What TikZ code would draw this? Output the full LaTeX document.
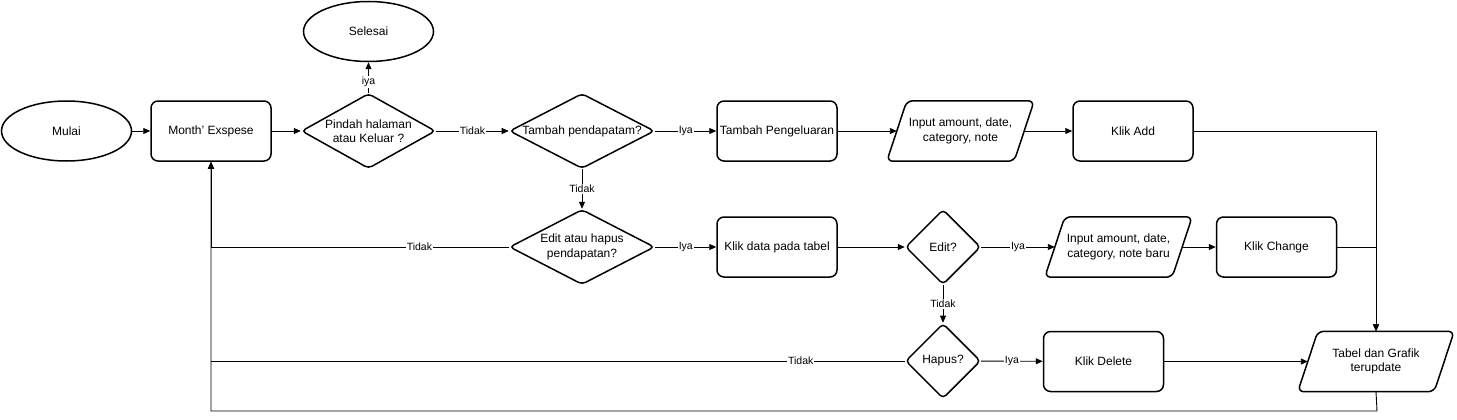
\documentclass[tikz,border=0pt]{standalone}
\usepackage{fontspec}
\setmainfont{Liberation Sans}
\usetikzlibrary{shapes.geometric,arrows.meta}
\tikzset{
  base/.style={draw=black, line width=1.5pt, fill=white, inner sep=0pt, align=center,
    font=\fontsize{12}{14.5}\selectfont},
  term/.style={base, ellipse, minimum width=130pt, minimum height=60pt},
  proc/.style={base, rectangle, rounded corners=7pt, minimum width=120pt, minimum height=60pt},
  dia/.style={base, diamond, rounded corners=4pt},
  iobox/.style={inner sep=0pt, align=center, minimum height=60pt,
    font=\fontsize{12}{14.5}\selectfont},
  ioline/.style={draw=black, line width=1.5pt, rounded corners=6pt},
  arr/.style={draw=black, line width=0.9pt, -{Triangle[length=7pt,width=6pt]}},
  ln/.style={draw=black, line width=0.9pt},
  lbl/.style={fill=white, inner sep=1pt, font=\fontsize{10.5}{12}\selectfont},
  txt/.style={align=center, font=\fontsize{12}{14.5}\selectfont}
}
\newcommand{\iodraw}[1]{%
  \draw[ioline] ([xshift=20pt]#1.north west) -- (#1.north east) -- ([xshift=-20pt]#1.south east) -- (#1.south west) -- cycle;}
\begin{document}
\begin{tikzpicture}[x=1pt,y=-1pt]
\useasboundingbox (0,0) rectangle (1457,420);

% nodes
\node[term] (mulai) at (66.5,131) {Mulai};
\node[proc] (month) at (211,131) {Month' Exspese};
\node[dia, minimum width=134pt, minimum height=75pt,
  label={[txt]center:Pindah halaman\\atau Keluar ?}] (pindah) at (368.5,131) {};
\node[term] (selesai) at (368.5,31.5) {Selesai};
\node[dia, minimum width=145pt, minimum height=75pt,
  label={[txt]center:Tambah pendapatam?}] (tambah) at (582,131) {};
\node[proc] (peng) at (777,131) {Tambah Pengeluaran};
\node[iobox, minimum width=147pt] (in1) at (960.5,131) {Input amount, date,\\category, note};
\iodraw{in1}
\node[proc] (add) at (1133,131) {Klik Add};

\node[dia, minimum width=145pt, minimum height=75pt,
  label={[txt]center:Edit atau hapus\\pendapatan?}] (edithapus) at (582,247) {};
\node[proc] (klikdata) at (777,247) {Klik data pada tabel};
\node[dia, minimum width=75pt, minimum height=75pt,
  label={[txt]center:Edit?}] (edit) at (943,247) {};
\node[iobox, minimum width=147pt] (in2) at (1118.5,247) {Input amount, date,\\category, note baru};
\iodraw{in2}
\node[proc] (change) at (1276.5,247) {Klik Change};

\node[dia, minimum width=75pt, minimum height=75pt,
  label={[txt]center:Hapus?}] (hapus) at (943,361) {};
\node[proc] (delete) at (1103.5,361.5) {Klik Delete};
\node[iobox, minimum width=156pt] (tabel) at (1376,361.5) {Tabel dan Grafik\\terupdate};
\iodraw{tabel}

\coordinate (bot) at (1377,411);

% connectors
\draw[arr] (mulai) -- (month);
\draw[arr] (month) -- (pindah);
\draw[arr] (pindah) -- node[lbl, pos=0.35]{iya} (selesai);
\draw[arr] (pindah) -- node[lbl]{Tidak} (tambah);
\draw[arr] (tambah) -- node[lbl]{Iya} (peng);
\draw[arr] (peng) -- ([xshift=10pt]in1.west);
\draw[arr] ([xshift=-10pt]in1.east) -- (add);
\draw[arr] (add) -| (tabel.north);
\draw[arr] (change) -| (tabel.north);
\draw[arr] (tambah) -- node[lbl]{Tidak} (edithapus);
\draw[arr] (edithapus) -- node[lbl]{Iya} (klikdata);
\draw[arr] (edithapus.west) -- node[lbl, pos=0.30]{Tidak} (edithapus.west -| month.south) -- (month.south);
\draw[arr] (klikdata) -- (edit);
\draw[arr] (edit) -- node[lbl]{Iya} ([xshift=10pt]in2.west);
\draw[arr] ([xshift=-10pt]in2.east) -- (change);
\draw[arr] (edit) -- node[lbl]{Tidak} (hapus);
\draw[arr] (hapus) -- node[lbl]{Iya} (delete);
\draw[ln] (hapus.west) -- node[lbl, pos=0.15]{Tidak} (hapus.west -| month.south);
\draw[arr] (delete) -- ([xshift=10pt]tabel.west);
\draw[arr] (tabel.south) -- (bot) -| (month.south);
\end{tikzpicture}
\end{document}
